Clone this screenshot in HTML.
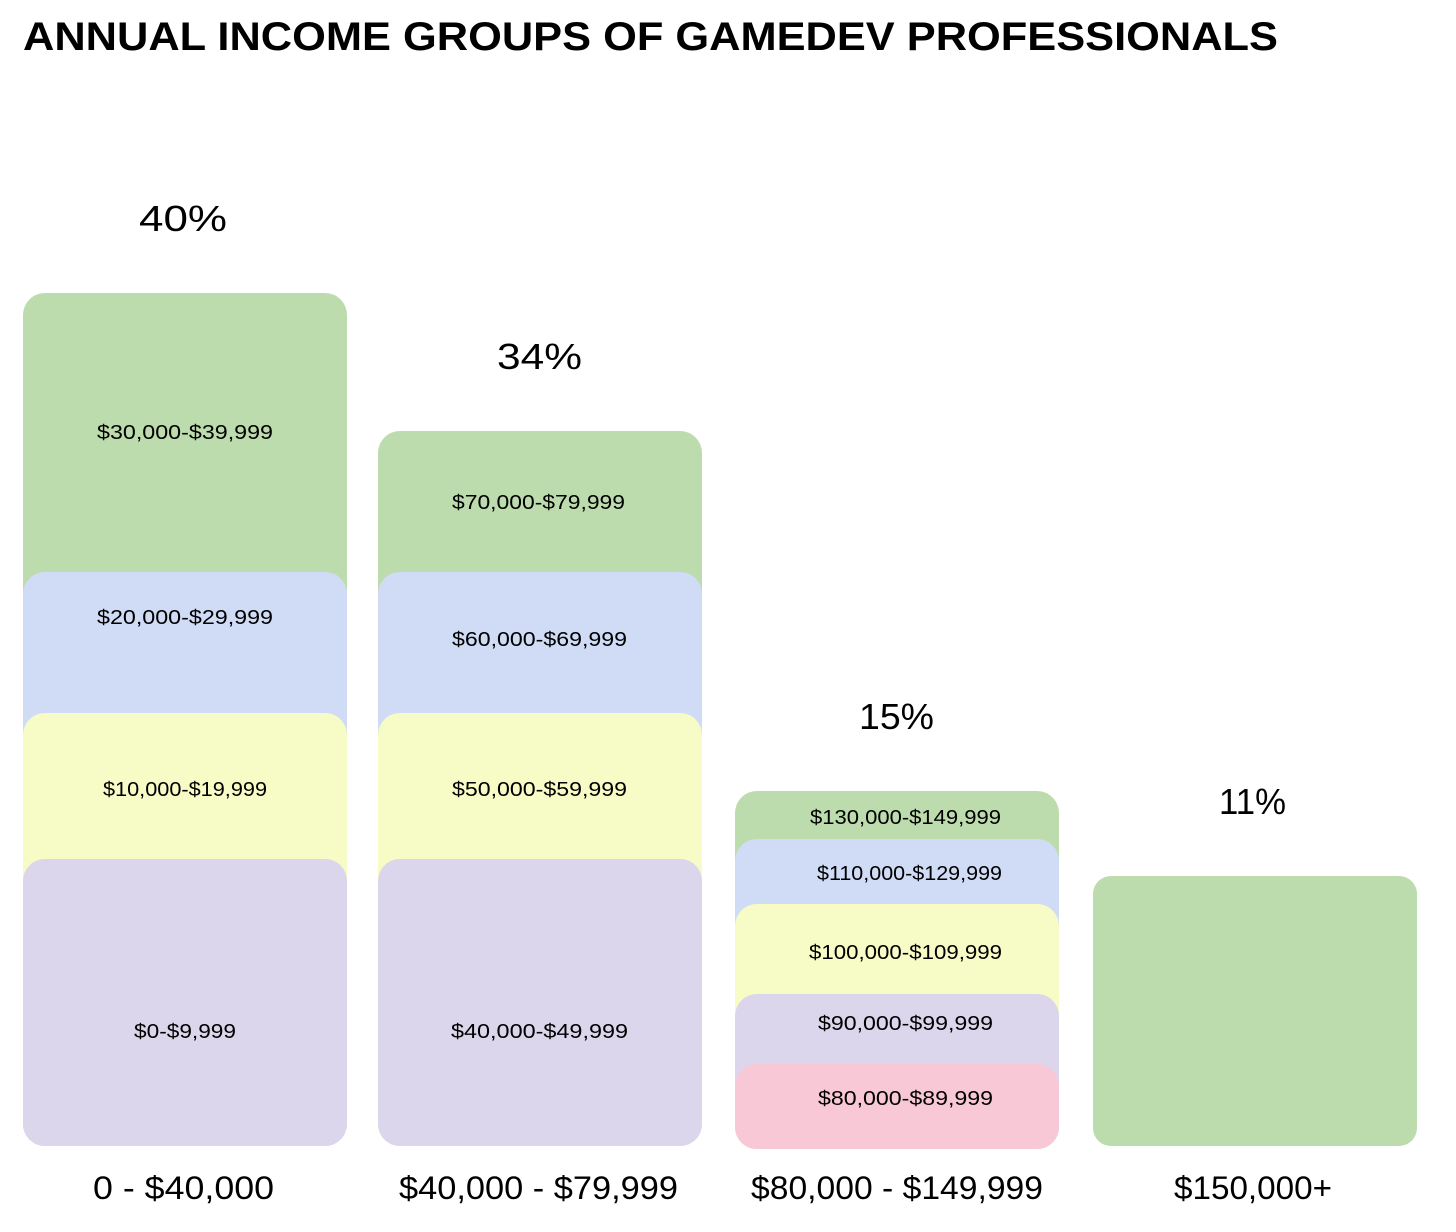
<!DOCTYPE html>
<html><head><meta charset="utf-8"><style>html,body{margin:0;padding:0;background:#fff}</style></head>
<body>
<svg width="1456" height="1227" xmlns="http://www.w3.org/2000/svg" font-family="Liberation Sans, sans-serif">
<rect width="1456" height="1227" fill="#fff"/>
<text x="23" y="50" font-size="40" font-weight="bold" textLength="1255" lengthAdjust="spacingAndGlyphs">ANNUAL INCOME GROUPS OF GAMEDEV PROFESSIONALS</text>
<g>
<rect x="23" y="293" width="324" height="853" rx="22" fill="#bddcae"/>
<rect x="23" y="572" width="324" height="574" rx="22" fill="#d0dbf6"/>
<rect x="23" y="713" width="324" height="433" rx="22" fill="#f7fbc6"/>
<rect x="23" y="859" width="324" height="287" rx="22" fill="#dbd6eb"/>
<rect x="378" y="431" width="324" height="715" rx="22" fill="#bddcae"/>
<rect x="378" y="572" width="324" height="574" rx="22" fill="#d0dbf6"/>
<rect x="378" y="713" width="324" height="433" rx="22" fill="#f7fbc6"/>
<rect x="378" y="859" width="324" height="287" rx="22" fill="#dbd6eb"/>
<rect x="735" y="791" width="324" height="358" rx="22" fill="#bddcae"/>
<rect x="735" y="839" width="324" height="310" rx="22" fill="#d0dbf6"/>
<rect x="735" y="904" width="324" height="245" rx="22" fill="#f7fbc6"/>
<rect x="735" y="994" width="324" height="155" rx="22" fill="#dbd6eb"/>
<rect x="735" y="1064" width="324" height="85" rx="22" fill="#f9c8d6"/>
<rect x="1093" y="876" width="324" height="270" rx="18" fill="#bddcae"/>
</g>
<g font-size="20" fill="#000">
<text x="97" y="439" textLength="176" lengthAdjust="spacingAndGlyphs">$30,000-$39,999</text>
<text x="97" y="624" textLength="176" lengthAdjust="spacingAndGlyphs">$20,000-$29,999</text>
<text x="103" y="796" textLength="164" lengthAdjust="spacingAndGlyphs">$10,000-$19,999</text>
<text x="134" y="1038" textLength="102" lengthAdjust="spacingAndGlyphs">$0-$9,999</text>
<text x="452" y="509" textLength="173" lengthAdjust="spacingAndGlyphs">$70,000-$79,999</text>
<text x="452" y="646" textLength="175" lengthAdjust="spacingAndGlyphs">$60,000-$69,999</text>
<text x="452" y="796" textLength="175" lengthAdjust="spacingAndGlyphs">$50,000-$59,999</text>
<text x="451" y="1038" textLength="177" lengthAdjust="spacingAndGlyphs">$40,000-$49,999</text>
<text x="810" y="824" textLength="191" lengthAdjust="spacingAndGlyphs">$130,000-$149,999</text>
<text x="817" y="880" textLength="185" lengthAdjust="spacingAndGlyphs">$110,000-$129,999</text>
<text x="809" y="959" textLength="193" lengthAdjust="spacingAndGlyphs">$100,000-$109,999</text>
<text x="818" y="1030" textLength="175" lengthAdjust="spacingAndGlyphs">$90,000-$99,999</text>
<text x="818" y="1105" textLength="175" lengthAdjust="spacingAndGlyphs">$80,000-$89,999</text>
</g>
<g font-size="36" fill="#000">
<text x="139" y="231" textLength="88" lengthAdjust="spacingAndGlyphs">40%</text>
<text x="497" y="369" textLength="85" lengthAdjust="spacingAndGlyphs">34%</text>
<text x="859" y="729" textLength="75" lengthAdjust="spacingAndGlyphs">15%</text>
<text x="1219" y="814" textLength="67" lengthAdjust="spacingAndGlyphs">11%</text>
</g>
<g font-size="32" fill="#000">
<text x="93" y="1199" textLength="181" lengthAdjust="spacingAndGlyphs">0 - $40,000</text>
<text x="399" y="1199" textLength="279" lengthAdjust="spacingAndGlyphs">$40,000 - $79,999</text>
<text x="751" y="1199" textLength="292" lengthAdjust="spacingAndGlyphs">$80,000 - $149,999</text>
<text x="1174" y="1199" textLength="158" lengthAdjust="spacingAndGlyphs">$150,000+</text>
</g>
</svg>
</body></html>
